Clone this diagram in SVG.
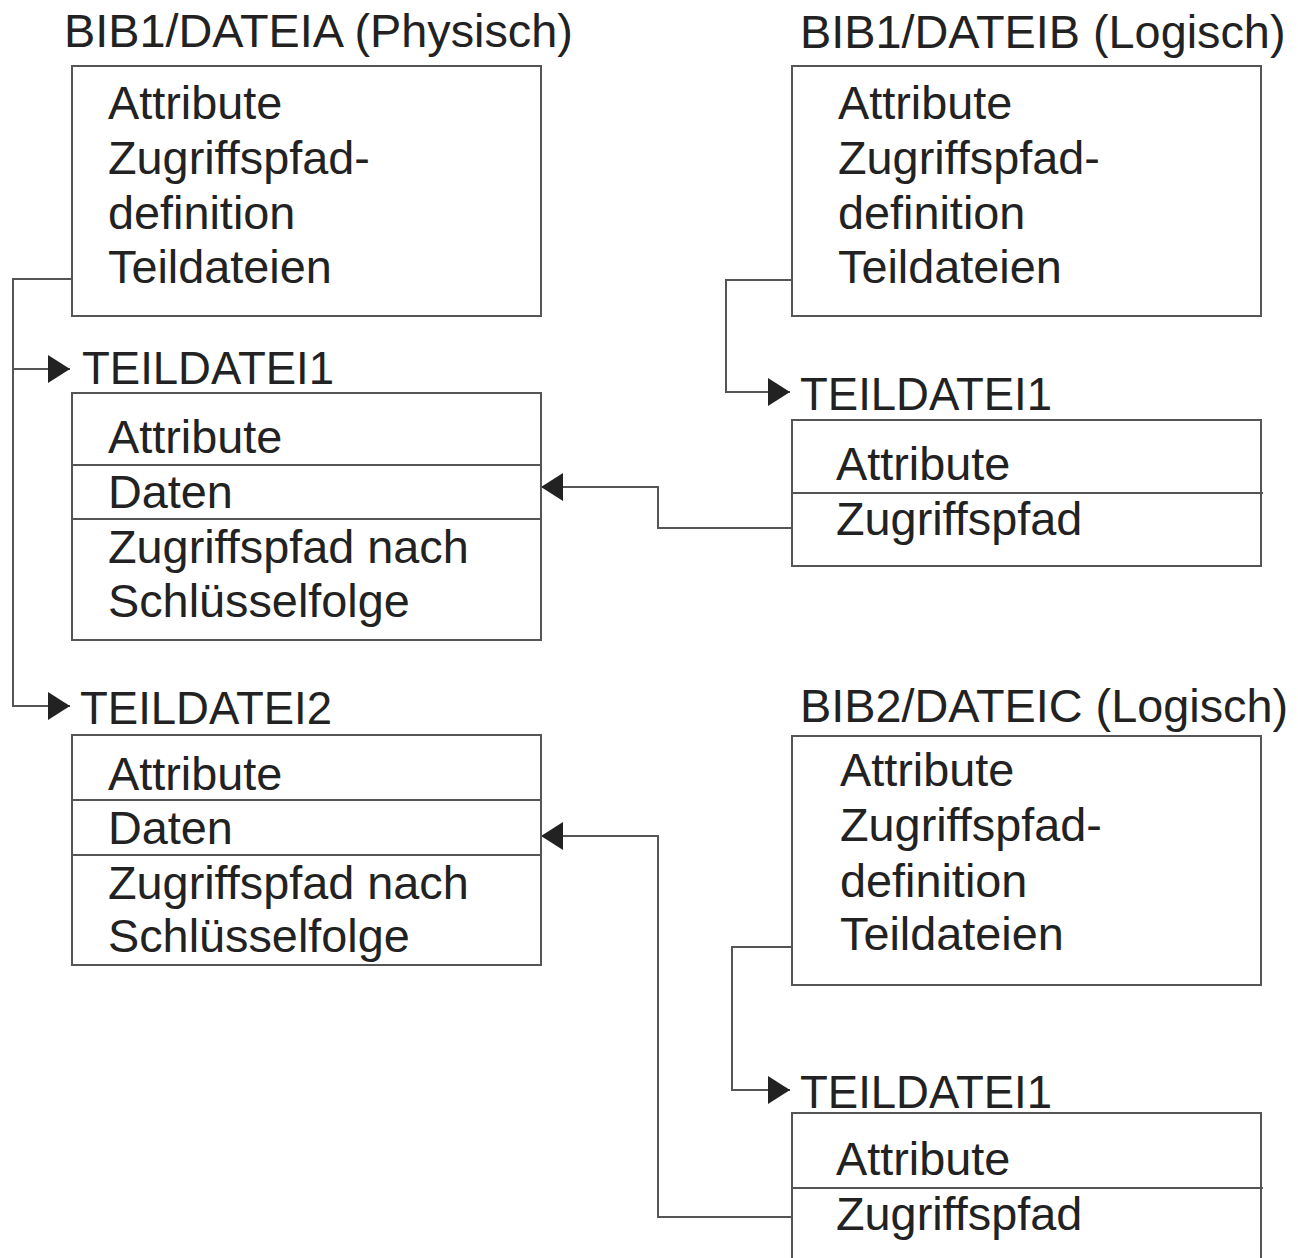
<svg xmlns="http://www.w3.org/2000/svg" width="1298" height="1258" viewBox="0 0 1298 1258">
<style>
text{font-family:"Liberation Sans",Arial,sans-serif;font-size:46.8px;fill:#222}
text.lbl{font-size:45.5px}
.box{fill:#fff;stroke:#555;stroke-width:2}
.div{stroke:#555;stroke-width:2}
.con{fill:none;stroke:#555;stroke-width:2}
</style>
<defs>
<marker id="arr" markerUnits="userSpaceOnUse" markerWidth="24" markerHeight="28" refX="22" refY="14" orient="auto">
<path d="M0,0 L22,14 L0,28 Z" fill="#222"/>
</marker>
</defs>
<rect width="1298" height="1258" fill="#fff"/>
<g id="connectors">
<path class="con" d="M72,279 H13 V369 H70" marker-end="url(#arr)"/>
<path class="con" d="M13,369 V706 H70" marker-end="url(#arr)"/>
<path class="con" d="M792,280 H726 V392 H790" marker-end="url(#arr)"/>
<path class="con" d="M792,528 H658 V487 H541" marker-end="url(#arr)"/>
<path class="con" d="M792,947 H732 V1090 H790" marker-end="url(#arr)"/>
<path class="con" d="M792,1217 H658 V836 H541" marker-end="url(#arr)"/>
</g>
<g id="dateia">
<text x="64" y="47">BIB1/DATEIA (Physisch)</text>
<rect class="box" x="72" y="66" width="469" height="250"/>
<text x="108" y="119">Attribute</text>
<text x="108" y="174">Zugriffspfad-</text>
<text x="108" y="229">definition</text>
<text x="108" y="283">Teildateien</text>
</g>
<g id="dateia-teil1">
<text class="lbl" x="82" y="384">TEILDATEI1</text>
<rect class="box" x="72" y="393" width="469" height="247"/>
<line class="div" x1="72" y1="465" x2="541" y2="465"/>
<line class="div" x1="72" y1="519" x2="541" y2="519"/>
<text x="108" y="453">Attribute</text>
<text x="108" y="508">Daten</text>
<text x="108" y="563">Zugriffspfad nach</text>
<text x="108" y="617">Schlüsselfolge</text>
</g>
<g id="dateia-teil2">
<text class="lbl" x="80" y="724">TEILDATEI2</text>
<rect class="box" x="72" y="735" width="469" height="230"/>
<line class="div" x1="72" y1="800" x2="541" y2="800"/>
<line class="div" x1="72" y1="855" x2="541" y2="855"/>
<text x="108" y="790">Attribute</text>
<text x="108" y="844">Daten</text>
<text x="108" y="899">Zugriffspfad nach</text>
<text x="108" y="952">Schlüsselfolge</text>
</g>
<g id="dateib">
<text x="800" y="48">BIB1/DATEIB (Logisch)</text>
<rect class="box" x="792" y="66" width="469" height="250"/>
<text x="838" y="119">Attribute</text>
<text x="838" y="174">Zugriffspfad-</text>
<text x="838" y="229">definition</text>
<text x="838" y="283">Teildateien</text>
</g>
<g id="dateib-teil1">
<text class="lbl" x="800" y="410">TEILDATEI1</text>
<rect class="box" x="792" y="420" width="469" height="146"/>
<line class="div" x1="792" y1="493" x2="1263" y2="493"/>
<text x="836" y="480">Attribute</text>
<text x="836" y="535">Zugriffspfad</text>
</g>
<g id="dateic">
<text x="800" y="722">BIB2/DATEIC (Logisch)</text>
<rect class="box" x="792" y="736" width="469" height="249"/>
<text x="840" y="786">Attribute</text>
<text x="840" y="841">Zugriffspfad-</text>
<text x="840" y="897">definition</text>
<text x="840" y="950">Teildateien</text>
</g>
<g id="dateic-teil1">
<text class="lbl" x="800" y="1108">TEILDATEI1</text>
<rect class="box" x="792" y="1113" width="469" height="160"/>
<line class="div" x1="792" y1="1188" x2="1263" y2="1188"/>
<text x="836" y="1175">Attribute</text>
<text x="836" y="1230">Zugriffspfad</text>
</g>
</svg>
